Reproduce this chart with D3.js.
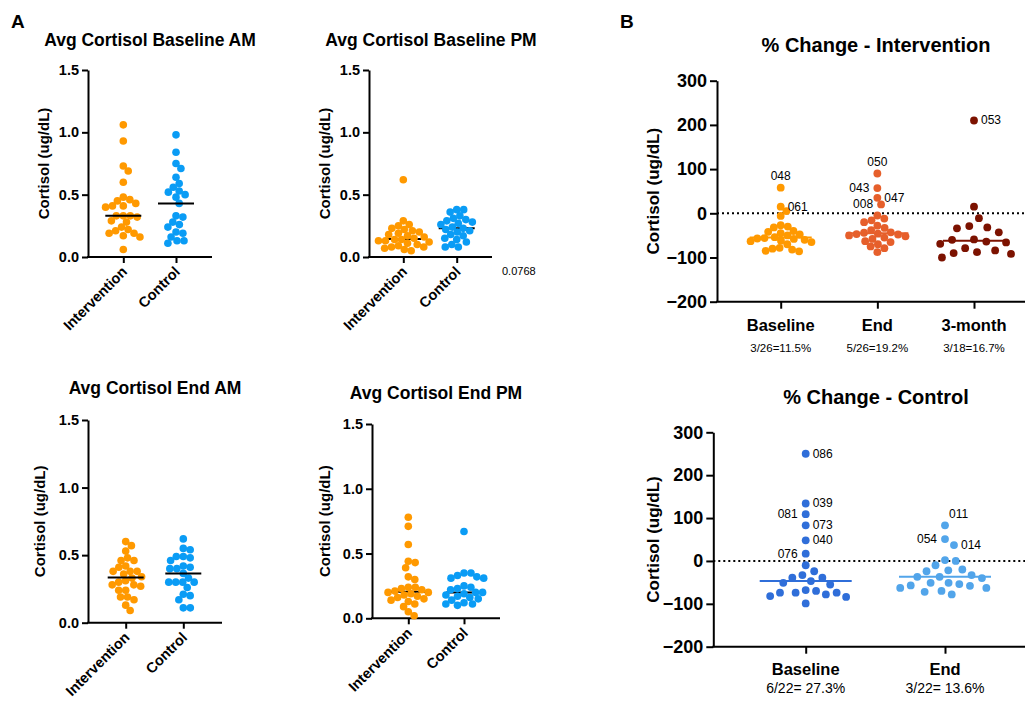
<!DOCTYPE html>
<html>
<head>
<meta charset="utf-8">
<script src="https://cdn.jsdelivr.net/npm/d3@7"></script>
<style>
    body { margin: 0; background: #fff; }
    svg text { font-family: "Liberation Sans", Arial, Helvetica, sans-serif; }
</style>
</head>
<body>
<svg id="chart" width="1025" height="704"></svg>
<script>
// ---- data ----
var catsA = ['Intervention', 'Control'];
var ticksA = [0, 0.5, 1.0, 1.5];

var baseAmInt = [1.06,0.93,0.73,0.69,0.60,0.48,0.46,0.45,0.43,0.41,0.41,0.40,0.33,0.33,0.33,0.32,0.29,0.28,0.24,0.22,0.21,0.19,0.19,0.17,0.16,0.06];
var baseAmCtl = [0.98,0.84,0.75,0.71,0.64,0.59,0.56,0.53,0.52,0.50,0.48,0.43,0.33,0.32,0.28,0.26,0.24,0.20,0.19,0.16,0.13,0.13,0.11];
var basePmInt = [0.62,0.29,0.26,0.25,0.23,0.22,0.21,0.20,0.19,0.18,0.17,0.16,0.15,0.14,0.14,0.13,0.13,0.12,0.11,0.10,0.09,0.08,0.08,0.07,0.06,0.05];
var basePmCtl = [0.38,0.38,0.36,0.33,0.31,0.30,0.29,0.28,0.27,0.26,0.24,0.23,0.22,0.21,0.20,0.18,0.17,0.15,0.14,0.12,0.10,0.08,0.08];
var endAmInt = [0.60,0.57,0.53,0.48,0.46,0.46,0.42,0.41,0.38,0.38,0.38,0.36,0.34,0.33,0.31,0.30,0.28,0.28,0.27,0.24,0.24,0.19,0.19,0.17,0.13,0.09];
var endAmCtl = [0.62,0.55,0.54,0.49,0.49,0.48,0.46,0.42,0.41,0.40,0.40,0.365,0.33,0.30,0.30,0.30,0.30,0.26,0.21,0.20,0.17,0.11,0.11];
var endPmInt = [0.78,0.71,0.57,0.44,0.43,0.39,0.32,0.30,0.24,0.24,0.23,0.22,0.21,0.20,0.20,0.19,0.18,0.17,0.16,0.15,0.14,0.13,0.11,0.09,0.05,0.02];
var endPmCtl = [0.67,0.35,0.35,0.33,0.32,0.31,0.31,0.25,0.24,0.23,0.22,0.20,0.20,0.19,0.18,0.17,0.16,0.15,0.14,0.12,0.11,0.11,0.10];

var ticksB = [-200, -100, 0, 100, 200, 300];
var catsB1 = ['Baseline', 'End', '3-month'];
var subB1 = ['3/26=11.5%', '5/26=19.2%', '3/18=16.7%'];
var chgIntBase = [58,15,5,-6,-27,-30,-32,-40,-42,-45,-48,-50,-54,-56,-57,-58,-60,-62,-63,-65,-70,-78,-80,-82,-85,-86];
var chgIntEnd = [90,57,35,20,-5,-12,-16,-20,-28,-33,-38,-43,-44,-46,-47,-48,-50,-52,-55,-58,-63,-65,-70,-75,-79,-88];
var chgInt3mo = [210,15,-11,-29,-32,-34,-43,-59,-60,-64,-66,-69,-79,-84,-88,-90,-92,-100];
var idsB1 = [
    {cat: 'Baseline', v: 58, id: '048'},
    {cat: 'Baseline', v: 15, id: '061'},
    {cat: 'End', v: 90, id: '050'},
    {cat: 'End', v: 57, id: '043'},
    {cat: 'End', v: 35, id: '047'},
    {cat: 'End', v: 20, id: '008'},
    {cat: '3-month', v: 210, id: '053'}
];

var catsB2 = ['Baseline', 'End'];
var subB2 = ['6/22= 27.3%', '3/22= 13.6%'];
var chgCtlBase = [250,134,109,83,48,17,-10,-24,-33,-39,-39,-47,-51,-55,-68,-70,-74,-74,-74,-78,-82,-84,-99];
var chgCtlEnd = [83,51,37,2,0,-10,-20,-22,-24,-33,-37,-37,-40,-51,-51,-54,-57,-58,-63,-63,-70,-72,-78];
var idsB2 = [
    {cat: 'Baseline', v: 250, id: '086'},
    {cat: 'Baseline', v: 134, id: '039'},
    {cat: 'Baseline', v: 109, id: '081'},
    {cat: 'Baseline', v: 83, id: '073'},
    {cat: 'Baseline', v: 48, id: '040'},
    {cat: 'Baseline', v: 17, id: '076'},
    {cat: 'End', v: 83, id: '011'},
    {cat: 'End', v: 51, id: '054'},
    {cat: 'End', v: 37, id: '014'}
];

// where each id label sits relative to its dot
var labelSide = {'048': 't', '061': 'r', '050': 't', '043': 'l', '047': 'r', '008': 'l', '053': 'r',
    '086': 'r', '039': 'r', '081': 'l', '073': 'r', '040': 'r', '076': 'l', '011': 'tr', '054': 'l', '014': 'r'};

var orange = '#ff9900', blue = '#0a9cf5';

var svg = d3.select('#chart');

// simple deterministic beeswarm: x offsets so dots never sit closer than d
function swarm(pts, d) {
    var placed = [];
    pts.slice().sort(function(a, b) { return a.y - b.y; }).forEach(function(p) {
        var cands = [0];
        placed.forEach(function(q) {
            var dy = Math.abs(q.y - p.y);
            if (dy < d) {
                var dx = Math.sqrt(d * d - dy * dy);
                cands.push(q.dx + dx, q.dx - dx);
            }
        });
        cands.sort(function(a, b) { return Math.abs(a) - Math.abs(b); });
        for (var i = 0; i < cands.length; i++) {
            var c = cands[i];
            var ok = placed.every(function(q) {
                return (q.dx - c) * (q.dx - c) + (q.y - p.y) * (q.y - p.y) >= d * d - 0.01;
            });
            if (ok) { p.dx = c; break; }
        }
        placed.push(p);
    });
    return pts;
}

function styleAxis(sel, size) {
    sel.attr('font-size', size).attr('font-weight', 'bold')
        .attr('font-family', '"Liberation Sans", Arial, sans-serif');
    sel.selectAll('path, line').attr('stroke', '#000').attr('stroke-width', 2);
    sel.selectAll('text').attr('fill', '#000');
}

function drawGroup(g, vals, cx, y, r, spacing, color, hw, lineColor, lineOnTop) {
    var pts = swarm(vals.map(function(v) { return {v: v, y: y(v), dx: 0}; }), spacing);
    var med = d3.median(vals);
    function medLine() {
        g.append('line')
            .attr('x1', cx - hw).attr('x2', cx + hw)
            .attr('y1', y(med)).attr('y2', y(med))
            .attr('stroke', lineColor).attr('stroke-width', 2);
    }
    if (!lineOnTop) medLine();
    g.selectAll(null).data(pts).enter().append('circle')
        .attr('cx', function(d) { return cx + d.dx; })
        .attr('cy', function(d) { return d.y; })
        .attr('r', r)
        .attr('fill', color);
    if (lineOnTop) medLine();
    return pts;
}

function panelA(o) {
    var g = svg.append('g');
    var y = d3.scaleLinear().domain([0, 1.5]).range([o.bottom, o.top]);
    var x = d3.scalePoint().domain(catsA).range(o.cats);

    g.append('text')
        .attr('x', o.tx).attr('y', o.ty)
        .attr('text-anchor', 'middle')
        .attr('font-size', 17.5).attr('font-weight', 'bold')
        .text(o.title);

    g.append('text')
        .attr('transform', 'translate(' + o.lx + ',' + ((o.top + o.bottom) / 2) + ') rotate(-90)')
        .attr('text-anchor', 'middle').attr('dy', '0.35em')
        .attr('font-size', 15).attr('font-weight', 'bold')
        .text('Cortisol (ug/dL)');

    var ya = g.append('g')
        .attr('transform', 'translate(' + o.left + ',0)')
        .call(d3.axisLeft(y).tickValues(ticksA).tickFormat(d3.format('.1f')).tickSize(6).tickSizeOuter(0));
    styleAxis(ya, 14.5);

    var xa = g.append('g')
        .attr('transform', 'translate(0,' + o.bottom + ')')
        .call(d3.axisBottom(x).tickSize(6));
    styleAxis(xa, 14.5);
    xa.select('.domain').remove();
    xa.selectAll('text')
        .attr('x', -8).attr('y', 9).attr('dy', '0.35em')
        .attr('transform', 'rotate(-45)')
        .style('text-anchor', 'end');

    g.append('line')
        .attr('x1', o.left - 1).attr('x2', o.right)
        .attr('y1', o.bottom).attr('y2', o.bottom)
        .attr('stroke', '#000').attr('stroke-width', 2);

    drawGroup(g, o.int, x('Intervention'), y, 3.8, 7, orange, 18, '#000', o.onTop);
    drawGroup(g, o.ctl, x('Control'), y, 3.8, 7, blue, 18, '#000', o.onTop);
}

function panelB(o) {
    var g = svg.append('g');
    var y = d3.scaleLinear().domain([-200, 300]).range([o.bottom, o.top]);
    var x = d3.scalePoint().domain(o.cats).range(o.catRange);

    g.append('text')
        .attr('x', o.tx).attr('y', o.ty)
        .attr('text-anchor', 'middle')
        .attr('font-size', 20).attr('font-weight', 'bold')
        .text(o.title);

    g.append('text')
        .attr('transform', 'translate(' + o.lx + ',' + ((o.top + o.bottom) / 2) + ') rotate(-90)')
        .attr('text-anchor', 'middle').attr('dy', '0.35em')
        .attr('font-size', 17).attr('font-weight', 'bold')
        .text('Cortisol (ug/dL)');

    var ya = g.append('g')
        .attr('transform', 'translate(' + o.left + ',0)')
        .call(d3.axisLeft(y).tickValues(ticksB).tickSize(7).tickSizeOuter(0));
    styleAxis(ya, 18);

    var xa = g.append('g')
        .attr('transform', 'translate(0,' + o.bottom + ')')
        .call(d3.axisBottom(x).tickSize(7).tickFormat(''));
    styleAxis(xa, 16);
    xa.select('.domain').remove();

    g.append('line')
        .attr('x1', o.left - 1).attr('x2', 1025)
        .attr('y1', o.bottom).attr('y2', o.bottom)
        .attr('stroke', '#000').attr('stroke-width', 2);

    // reference line at zero
    g.append('line')
        .attr('x1', o.left).attr('x2', 1025)
        .attr('y1', y(0)).attr('y2', y(0))
        .attr('stroke', '#000').attr('stroke-width', 2)
        .attr('stroke-dasharray', '2,3');

    g.selectAll('.cat').data(o.cats).enter().append('text')
        .attr('x', function(d) { return x(d); })
        .attr('y', o.catY)
        .attr('text-anchor', 'middle')
        .attr('font-size', 16.5).attr('font-weight', 'bold')
        .text(function(d) { return d; });

    g.selectAll('.sub').data(o.sub).enter().append('text')
        .attr('x', function(d, i) { return x(o.cats[i]); })
        .attr('y', o.subY)
        .attr('text-anchor', 'middle')
        .attr('font-size', o.subSize)
        .text(function(d) { return d; });

    var placedByCat = {};
    o.cats.forEach(function(c, i) {
        placedByCat[c] = drawGroup(g, o.series[i], x(c), y, 3.9, o.spacing[i], o.colors[i], o.hw, o.colors[i], true);
    });

    o.ids.forEach(function(l) {
        var p = placedByCat[l.cat].filter(function(d) { return d.v === l.v; })[0];
        var cx = x(l.cat) + p.dx, cy = p.y;
        var side = labelSide[l.id];
        var t = g.append('text').attr('font-size', 12).text(l.id);
        if (side === 't') t.attr('x', cx).attr('y', cy - 8).attr('text-anchor', 'middle');
        else if (side === 'tr') t.attr('x', cx + 4).attr('y', cy - 7).attr('text-anchor', 'start');
        else if (side === 'l') t.attr('x', cx - 8).attr('y', cy + 4).attr('text-anchor', 'end');
        else t.attr('x', cx + 7).attr('y', cy + 4).attr('text-anchor', 'start');
    });
}

// panel letters
svg.append('text').attr('x', 11).attr('y', 28).attr('font-size', 19).attr('font-weight', 'bold').text('A');
svg.append('text').attr('x', 620).attr('y', 28).attr('font-size', 19).attr('font-weight', 'bold').text('B');

panelA({title: 'Avg Cortisol Baseline AM', tx: 150, ty: 46, lx: 44, left: 88, right: 212,
    top: 70, bottom: 257, cats: [123.3, 176], int: baseAmInt, ctl: baseAmCtl, onTop: true});
panelA({title: 'Avg Cortisol Baseline PM', tx: 431, ty: 46, lx: 325, left: 369, right: 492,
    top: 70, bottom: 257, cats: [403.3, 456.7], int: basePmInt, ctl: basePmCtl, onTop: false});
panelA({title: 'Avg Cortisol End AM', tx: 155, ty: 394, lx: 40, left: 88, right: 222,
    top: 420, bottom: 622.7, cats: [125.7, 183.3], int: endAmInt, ctl: endAmCtl, onTop: true});
panelA({title: 'Avg Cortisol End PM', tx: 436, ty: 399, lx: 325, left: 372, right: 500,
    top: 424, bottom: 618.3, cats: [408.3, 464], int: endPmInt, ctl: endPmCtl, onTop: false});

svg.append('text').attr('x', 502).attr('y', 275).attr('font-size', 11).text('0.0768');

panelB({title: '% Change - Intervention', tx: 876, ty: 52, lx: 653, left: 717, top: 80.7, bottom: 301.7,
    cats: catsB1, catRange: [780.7, 974], sub: subB1, catY: 331, subY: 352, subSize: 11.5,
    series: [chgIntBase, chgIntEnd, chgInt3mo], spacing: [7.2, 7.6, 12.5],
    colors: [orange, '#e65f2b', '#7c1200'], hw: 31, ids: idsB1});
panelB({title: '% Change - Control', tx: 876, ty: 404, lx: 653, left: 713.3, top: 432.3, bottom: 646.7,
    cats: catsB2, catRange: [805.7, 945], sub: subB2, catY: 675, subY: 693, subSize: 14,
    series: [chgCtlBase, chgCtlEnd], spacing: [10.4, 10.8],
    colors: ['#2f6ed9', '#52a5ea'], hw: 46, ids: idsB2});
</script>
</body>
</html>
